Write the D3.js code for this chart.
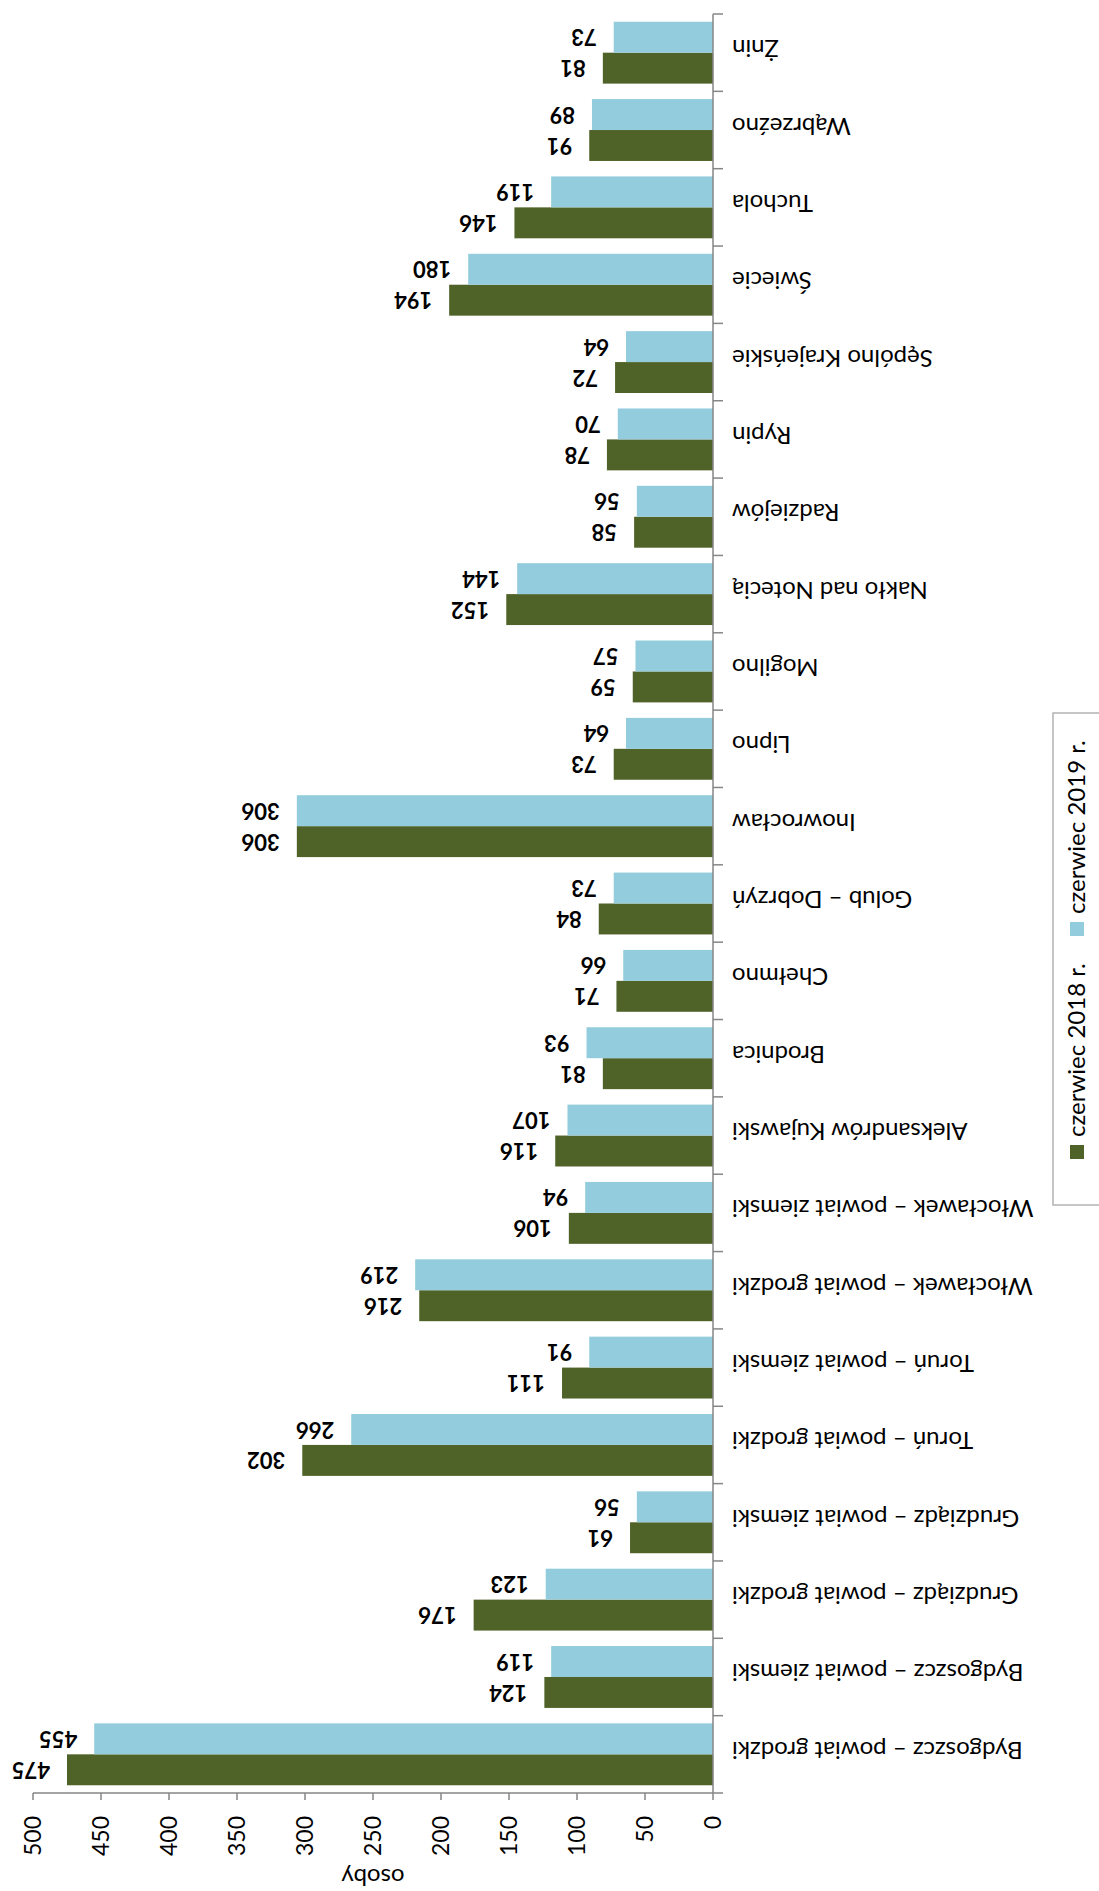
<!DOCTYPE html>
<html>
<head>
<meta charset="utf-8">
<script src="https://cdn.jsdelivr.net/npm/d3@7"></script>
<style>
  body { margin: 0; background: #fff; }
  text { font-family: Lato, "Open Sans", sans-serif; fill: #000; }
</style>
</head>
<body>
<div id="chart"></div>
<script>
const categories = [
    "Bydgoszcz – powiat grodzki", "Bydgoszcz – powiat ziemski",
    "Grudziądz – powiat grodzki", "Grudziądz – powiat ziemski",
    "Toruń – powiat grodzki", "Toruń – powiat ziemski",
    "Włocławek – powiat grodzki", "Włocławek – powiat ziemski",
    "Aleksandrów Kujawski", "Brodnica", "Chełmno", "Golub – Dobrzyń",
    "Inowrocław", "Lipno", "Mogilno", "Nakło nad Notecią", "Radziejów",
    "Rypin", "Sępólno Krajeńskie", "Świecie", "Tuchola", "Wąbrzeźno", "Żnin"
];
const june2018 = [475, 124, 176, 61, 302, 111, 216, 106, 116, 81, 71, 84, 306, 73, 59, 152, 58, 78, 72, 194, 146, 91, 81];
const june2019 = [455, 119, 123, 56, 266, 91, 219, 94, 107, 93, 66, 73, 306, 64, 57, 144, 56, 70, 64, 180, 119, 89, 73];
const seriesNames = ["czerwiec 2018 r.", "czerwiec 2019 r."];
const seriesColors = ["#4f6228", "#93cddd"];
const tickValues = [0, 50, 100, 150, 200, 250, 300, 350, 400, 450, 500];
const axisTitle = "osoby";

const width = 1099;
const height = 1891;
const plot = { left: 33, right: 713, top: 14, bottom: 1793 };

const svg = d3.select("#chart")
    .append("svg")
    .attr("width", width)
    .attr("height", height);

const xScale = d3.scaleLinear()
    .domain([0, 500])
    .range([plot.right, plot.left]);

// Żnin on top, Bydgoszcz at the bottom
const yScale = d3.scaleBand()
    .domain(categories.slice().reverse())
    .range([plot.top, plot.bottom]);

const ySub = d3.scaleBand()
    .domain([1, 0])          // 2019 above 2018 inside each band
    .range([0, yScale.bandwidth()])
    .paddingOuter(0.25);

const series = [june2018, june2019];

series.forEach((values, s) => {
    const rows = categories.map((c, i) => ({ cat: c, value: values[i] }));

    svg.append("g")
        .selectAll("rect")
        .data(rows)
        .enter()
        .append("rect")
        .attr("x", d => xScale(d.value))
        .attr("y", d => yScale(d.cat) + ySub(s))
        .attr("width", d => xScale(0) - xScale(d.value))
        .attr("height", ySub.bandwidth())
        .attr("fill", seriesColors[s]);

    svg.append("g")
        .selectAll("text")
        .data(rows)
        .enter()
        .append("text")
        .attr("transform", d => `translate(${xScale(d.value) - 17},${yScale(d.cat) + ySub(s) + ySub.bandwidth() / 2}) rotate(180)`)
        .attr("dy", "0.36em")
        .style("font-size", "22px")
        .style("font-weight", "bold")
        .text(d => d.value);
});

// category axis
const yAxis = svg.append("g");
yAxis.append("line")
    .attr("x1", plot.right).attr("x2", plot.right)
    .attr("y1", plot.top).attr("y2", plot.bottom)
    .attr("stroke", "#868686").attr("stroke-width", 1.5);

const bounds = categories.map(c => yScale(c)).concat([plot.bottom]);
yAxis.selectAll(".ytick")
    .data(bounds)
    .enter()
    .append("line")
    .attr("x1", plot.right).attr("x2", plot.right + 10)
    .attr("y1", d => d).attr("y2", d => d)
    .attr("stroke", "#868686").attr("stroke-width", 1.5);

yAxis.selectAll(".ylabel")
    .data(categories)
    .enter()
    .append("text")
    .attr("transform", d => `translate(${plot.right + 19},${yScale(d) + yScale.bandwidth() / 2}) rotate(180)`)
    .attr("text-anchor", "end")
    .attr("dy", "0.52em")
    .style("font-size", "24px")
    .text(d => d);

// value axis
const xAxis = svg.append("g");
xAxis.append("line")
    .attr("x1", plot.left).attr("x2", plot.right)
    .attr("y1", plot.bottom).attr("y2", plot.bottom)
    .attr("stroke", "#868686").attr("stroke-width", 1.5);

xAxis.selectAll(".xtick")
    .data(tickValues)
    .enter()
    .append("line")
    .attr("x1", d => xScale(d)).attr("x2", d => xScale(d))
    .attr("y1", plot.bottom).attr("y2", plot.bottom + 7)
    .attr("stroke", "#868686").attr("stroke-width", 1.5);

xAxis.selectAll(".xlabel")
    .data(tickValues)
    .enter()
    .append("text")
    .attr("transform", d => `translate(${xScale(d)},1816) rotate(-90)`)
    .attr("text-anchor", "end")
    .attr("dy", "0.35em")
    .style("font-size", "23px")
    .text(d => d);

svg.append("text")
    .attr("transform", `translate(${(plot.left + plot.right) / 2},1869) rotate(180)`)
    .attr("text-anchor", "middle")
    .style("font-size", "24px")
    .text(axisTitle);

// legend
const legend = svg.append("g");
legend.append("rect")
    .attr("x", 1053).attr("y", 713)
    .attr("width", 80).attr("height", 492)
    .attr("fill", "none")
    .attr("stroke", "#b3b3b3").attr("stroke-width", 1.5);

seriesNames.forEach((name, i) => {
    const y0 = 1145 - i * 223;
    legend.append("rect")
        .attr("x", 1070).attr("y", y0)
        .attr("width", 14).attr("height", 14)
        .attr("fill", seriesColors[i]);
    legend.append("text")
        .attr("transform", `translate(1077,${y0 - 8}) rotate(-90)`)
        .attr("dy", "0.35em")
        .style("font-size", "24px")
        .text(name);
});
</script>
</body>
</html>
